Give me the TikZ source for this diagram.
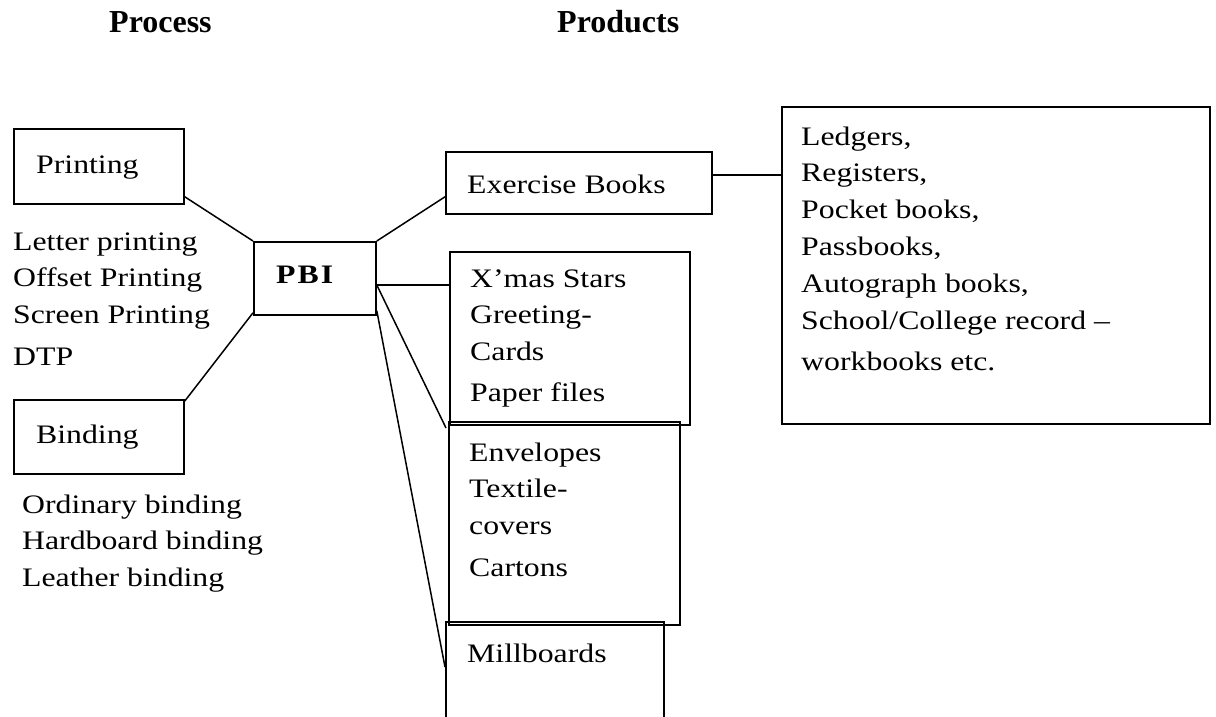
\documentclass[tikz,border=0pt]{standalone}
\usepackage{fontspec}
\setmainfont{Liberation Serif}[FakeStretch=1.19]
\newfontfamily\headfont{Liberation Serif}
\usetikzlibrary{calc}
\tikzset{
  box/.style={draw, line width=1.8pt, inner sep=0pt, anchor=north west},
  link/.style={line width=1.5pt},
  txt/.style={anchor=base west, inner sep=0pt, font=\fontsize{26.7}{36.8}\selectfont},
  head/.style={anchor=base west, inner sep=0pt, font=\headfont\bfseries\fontsize{32}{36}\selectfont},
}
\newcommand\stacklines[1]{\begin{tabular}[t]{@{}l@{}}#1\end{tabular}}
\begin{document}
\begin{tikzpicture}[x=1pt, y=-1pt]
  \useasboundingbox (0,0) rectangle (1216,717);

  % column headings
  \node[head] (hproc) at (109,33) {Process};
  \node[head] (hprod) at (557,33) {Products};

  % process boxes and the central unit
  \node[box, minimum width=170pt, minimum height=75pt] (print) at (13,128) {};
  \node[box, minimum width=170pt, minimum height=74pt] (bind) at (13,399) {};
  \node[box, minimum width=122pt, minimum height=73pt] (pbi) at (253,241) {};

  % product boxes
  \node[box, minimum width=266pt, minimum height=62pt] (ex) at (445,151) {};
  \node[box, minimum width=240pt, minimum height=173pt] (xmas) at (449,251) {};
  \node[box, minimum width=231pt, minimum height=203pt] (env) at (448,421) {};
  \node[box, minimum width=218pt, minimum height=110pt] (mill) at (445,621) {};
  \node[box, minimum width=428pt, minimum height=317pt] (ledger) at (781,106) {};

  % texts
  \node[txt] (tprint) at (36,173) {Printing};
  \node[txt] (tprocp) at (13,250) {\stacklines{Letter printing\\Offset Printing\\Screen Printing\\[5pt]DTP}};
  \node[txt] (tbind) at (36,443) {Binding};
  \node[txt] (tprocb) at (22,513) {\stacklines{Ordinary binding\\Hardboard binding\\Leather binding}};
  \node[txt] (tpbi) at (276,283) {\bfseries P\kern2pt B\kern2pt I};
  \node[txt] (tex) at (467,193) {Exercise Books};
  \node[txt] (txmas) at (470,287) {\stacklines{X’mas Stars\\Greeting-\\Cards\\[4pt]Paper files}};
  \node[txt] (tenv) at (469,461) {\stacklines{Envelopes\\Textile-\\covers\\[5pt]Cartons}};
  \node[txt] (tmill) at (467,662) {Millboards};
  \node[txt] (tledger) at (801,145) {\stacklines{Ledgers,\\Registers,\\Pocket books,\\Passbooks,\\Autograph books,\\School/College record –\\[5pt]workbooks etc.}};

  % connectors
  \coordinate (pbiR) at ($(pbi.north east)+(0,44)$);
  \coordinate (exR) at ($(ex.east)+(0,-8)$);
  \draw[link] ($(print.south east)+(0,-8)$) -- (pbi.north west);
  \draw[link] ($(bind.north east)+(0,2)$) -- ($(pbi.south west)+(0,-3)$);
  \draw[link] (pbi.north east) -- ($(ex.south west)+(0,-18)$);
  \draw[link] (pbiR) -- (pbiR -| xmas.west);
  \draw[link] (pbiR) -- ($(env.north west)+(-2,7)$);
  \draw[link] ($(pbi.south east)+(0,-5)$) -- ($(mill.north west)+(0,46)$);
  \draw[link] (exR) -- (exR -| ledger.west);
\end{tikzpicture}
\end{document}
